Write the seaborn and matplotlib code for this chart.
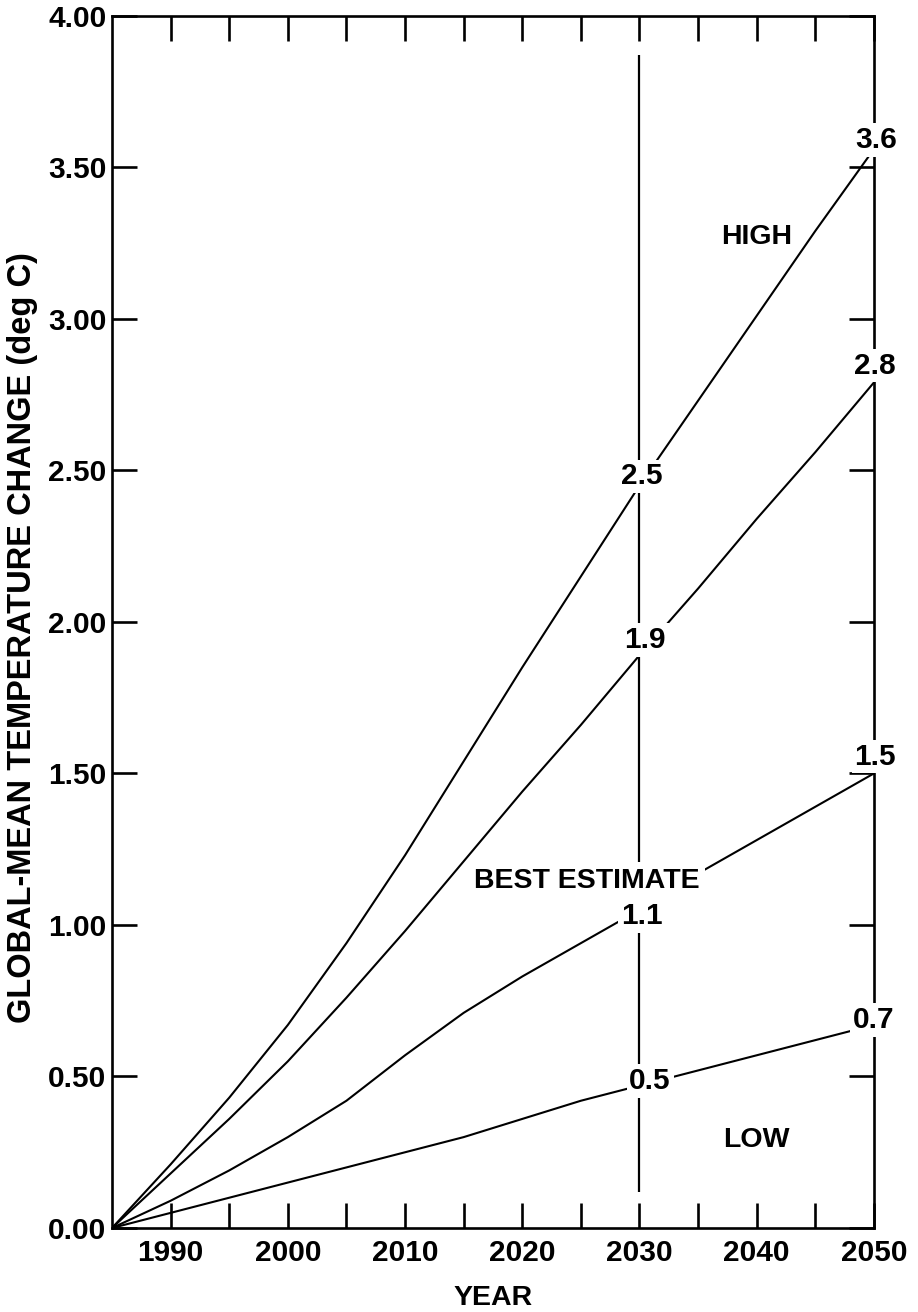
import pandas as pd
import seaborn as sns
import matplotlib.pyplot as plt

# values
years = [1985, 1990, 1995, 2000, 2005, 2010, 2015, 2020, 2025, 2030, 2035, 2040, 2045, 2050]
high = [0.00, 0.21, 0.43, 0.67, 0.94, 1.23, 1.54, 1.85, 2.15, 2.45, 2.73, 3.01, 3.29, 3.56]
upper_mid = [0.00, 0.18, 0.36, 0.55, 0.76, 0.98, 1.21, 1.44, 1.66, 1.89, 2.11, 2.34, 2.56, 2.79]
best = [0.00, 0.09, 0.19, 0.30, 0.42, 0.57, 0.71, 0.83, 0.94, 1.05, 1.17, 1.28, 1.39, 1.50]
low = [0.00, 0.05, 0.10, 0.15, 0.20, 0.25, 0.30, 0.36, 0.42, 0.47, 0.52, 0.57, 0.62, 0.67]

# value labels placed on the curves at 2030 and 2050
labels_2030 = ['2.5', '1.9', '1.1', '0.5']
labels_2050 = ['3.6', '2.8', '1.5', '0.7']

df = pd.DataFrame({
    'year': years * 4,
    'dT': high + upper_mid + best + low,
    'case': ['high'] * 14 + ['upper'] * 14 + ['best'] * 14 + ['low'] * 14,
})

sns.set_style('ticks')
plt.rcParams['font.family'] = ['Liberation Sans', 'DejaVu Sans']
plt.rcParams['font.weight'] = 'bold'
plt.rcParams['axes.labelweight'] = 'bold'
for k in ['text.color', 'axes.labelcolor', 'xtick.color', 'ytick.color']:
    plt.rcParams[k] = 'black'

fig = plt.figure(figsize=(9.18, 13.12), dpi=100)
ax = fig.add_axes([0.122, 0.064, 0.830, 0.924])

sns.lineplot(data=df, x='year', y='dT', hue='case', palette=['black'] * 4,
             legend=False, linewidth=1.5, ax=ax)

# 2030 marker line
ax.vlines(2030, 0.12, 3.87, color='black', linewidth=1.6)

ax.set_xlim(1985, 2050)
ax.set_ylim(0, 4)
ax.set_xticks(range(1990, 2051, 10))
ax.set_xticks(range(1995, 2050, 10), minor=True)
ax.set_yticks([i * 0.5 for i in range(9)])
ax.set_yticklabels(['%.2f' % (i * 0.5) for i in range(9)])

for which in ['major', 'minor']:
    ax.tick_params(axis='both', which=which, direction='in', length=18, width=1.9,
                   top=True, right=True, labelsize=21.5)
ax.tick_params(axis='x', pad=8)
ax.tick_params(axis='y', pad=4)
for s in ax.spines.values():
    s.set_linewidth(1.9)
    s.set_color('black')

ax.set_xlabel('YEAR', fontsize=20.5)
ax.xaxis.set_label_coords(0.5, -0.047)
ax.set_ylabel('GLOBAL-MEAN TEMPERATURE CHANGE (deg C)', fontsize=23.5)
ax.yaxis.set_label_coords(-0.097, 0.487)

box = dict(facecolor='white', edgecolor='none', pad=2)
pos_2030 = [(2030.2, 2.48), (2030.5, 1.94), (2030.2, 1.03), (2030.9, 0.485)]
for txt, (x, y) in zip(labels_2030, pos_2030):
    ax.text(x, y, txt, fontsize=21.5, ha='center', va='center', bbox=box, zorder=5)
pos_2050 = [(2050.2, 3.59), (2050.1, 2.845), (2050.1, 1.555), (2050.0, 0.686)]
for txt, (x, y) in zip(labels_2050, pos_2050):
    ax.text(x, y, txt, fontsize=21.5, ha='center', va='center', bbox=box,
            zorder=5, clip_on=False)

ax.text(2040, 3.27, 'HIGH', fontsize=20.5, ha='center', va='center')
ax.text(2025.5, 1.145, 'BEST ESTIMATE', fontsize=20.5, ha='center', va='center',
        bbox=dict(facecolor='white', edgecolor='none', pad=4), zorder=5)
ax.text(2040, 0.29, 'LOW', fontsize=20.5, ha='center', va='center')

fig.savefig('out.png', dpi=100, facecolor='white')
